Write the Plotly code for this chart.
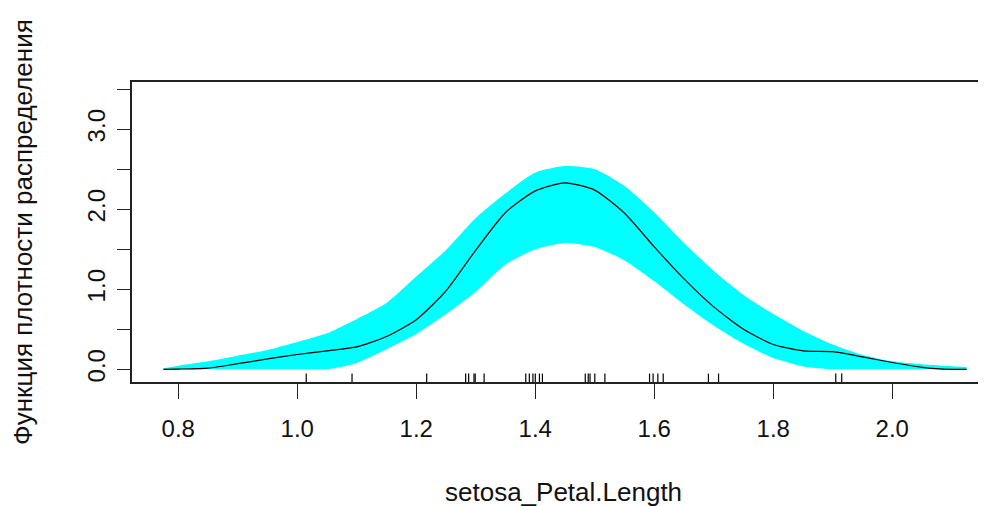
import plotly.graph_objects as go

# Density estimate
x_grid = [0.775, 0.80, 0.85, 0.90, 0.95, 1.00, 1.05, 1.10, 1.15, 1.20, 1.25, 1.30, 1.35,
          1.40, 1.45, 1.50, 1.55, 1.60, 1.65, 1.70, 1.75, 1.80, 1.85, 1.90, 1.95, 2.00,
          2.05, 2.10, 2.125]
density = [0.0, 0.003, 0.015, 0.07, 0.13, 0.185, 0.23, 0.28, 0.41, 0.62, 0.98, 1.49, 1.96,
           2.23, 2.33, 2.24, 1.95, 1.53, 1.13, 0.78, 0.50, 0.31, 0.23, 0.22, 0.155, 0.085,
           0.025, 0.0, 0.0]
band_upper = [0.012, 0.045, 0.10, 0.17, 0.24, 0.34, 0.45, 0.63, 0.83, 1.16, 1.49, 1.89, 2.20,
              2.46, 2.54, 2.50, 2.29, 1.96, 1.58, 1.23, 0.93, 0.69, 0.48, 0.31, 0.18, 0.10,
              0.063, 0.038, 0.03]
band_lower = [0.0, 0.0, 0.0, 0.0, 0.0, 0.0, 0.0, 0.08, 0.25, 0.44, 0.69, 0.97, 1.31,
              1.50, 1.58, 1.53, 1.36, 1.10, 0.81, 0.545, 0.32, 0.14, 0.035, 0.0, 0.0, 0.0,
              0.0, 0.0, 0.0]

# Rug (jittered observations)
rug_values = [1.015, 1.092, 1.2175, 1.283, 1.288, 1.297, 1.299, 1.314, 1.384, 1.39, 1.396,
              1.40, 1.407, 1.412, 1.484, 1.489, 1.492, 1.50, 1.517, 1.592, 1.598, 1.606,
              1.615, 1.691, 1.708, 1.905, 1.915]

x_ticks = [0.8, 1.0, 1.2, 1.4, 1.6, 1.8, 2.0]
y_ticks = [0.0, 0.5, 1.0, 1.5, 2.0, 2.5, 3.0, 3.5]
y_ticktext = ["0.0", "", "1.0", "", "2.0", "", "3.0", ""]

x_title = "setosa_Petal.Length"
y_title = "Функция плотности распределения"

x_range = [0.7222, 2.1575]
y_range = [-0.15875, 3.591]

FONT = "Liberation Sans, Arial, sans-serif"
SMOOTH = 0.6

fig = go.Figure()
fig.add_trace(go.Scatter(x=x_grid, y=band_lower, mode="lines",
                         line=dict(width=0, shape="spline", smoothing=SMOOTH),
                         hoverinfo="skip", showlegend=False))
fig.add_trace(go.Scatter(x=x_grid, y=band_upper, mode="lines",
                         line=dict(width=0, shape="spline", smoothing=SMOOTH),
                         fill="tonexty", fillcolor="#00FFFF", showlegend=False))
fig.add_trace(go.Scatter(x=x_grid, y=density, mode="lines",
                         line=dict(color="black", width=1.2, shape="spline", smoothing=SMOOTH),
                         showlegend=False))
fig.add_trace(go.Scatter(x=rug_values, y=[y_range[0]] * len(rug_values), mode="markers",
                         marker=dict(symbol="line-ns-open", size=12, color="black",
                                     line=dict(color="black", width=1.2)),
                         showlegend=False, cliponaxis=True))

# the page body has an 8px margin, so the figure is 8px smaller
fig.update_layout(
    width=978, height=498,
    margin=dict(l=124, r=0, t=74, b=124),
    paper_bgcolor="white", plot_bgcolor="white",
    font=dict(family=FONT, size=24, color="#111"),
    showlegend=False,
    xaxis=dict(range=x_range, tickvals=x_ticks, tickformat=".1f", ticks="outside",
               ticklen=15, tickwidth=1.2, tickcolor="#222", showline=True, linecolor="#222",
               linewidth=1.5, mirror=True, showgrid=False, zeroline=False,
               ticklabelstandoff=9, automargin=False),
    yaxis=dict(range=y_range, tickvals=y_ticks, ticktext=y_ticktext, ticks="outside",
               ticklen=13, tickwidth=1.2, tickcolor="#222", showline=True, linecolor="#222",
               linewidth=1.5, mirror=False, showgrid=False, zeroline=False, tickangle=-90,
               ticklabelstandoff=3, automargin=False),
    annotations=[
        dict(text=x_title, xref="paper", yref="paper", x=(563 - 132) / 854, y=(382 - 492) / 300,
             xanchor="center", yanchor="middle", showarrow=False,
             font=dict(family=FONT, size=26, color="#111")),
        dict(text=y_title, xref="paper", yref="paper", x=(23 - 132) / 854, y=0.5,
             xanchor="center", yanchor="middle", showarrow=False, textangle=-90,
             font=dict(family=FONT, size=26, color="#111")),
    ],
)

fig.write_html("out.html")
